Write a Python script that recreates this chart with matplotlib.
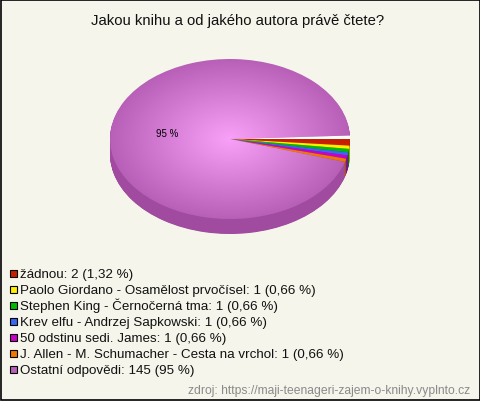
import numpy as np
import matplotlib
matplotlib.use("Agg")
import matplotlib.pyplot as plt
from matplotlib.patches import Rectangle

plt.rcParams['font.family'] = ['Liberation Sans', 'DejaVu Sans']

TITLE = "Jakou knihu a od jakého autora právě čtete?"
SOURCE = "zdroj: https://maji-teenageri-zajem-o-knihy.vyplnto.cz"
labels = ["žádnou: 2 (1,32 %)",
          "Paolo Giordano - Osamělost prvočísel: 1 (0,66 %)",
          "Stephen King - Černočerná tma: 1 (0,66 %)",
          "Krev elfu - Andrzej Sapkowski: 1 (0,66 %)",
          "50 odstinu sedi. James: 1 (0,66 %)",
          "J. Allen - M. Schumacher - Cesta na vrchol: 1 (0,66 %)",
          "Ostatní odpovědi: 145 (95 %)"]
percent = [1.32, 0.66, 0.66, 0.66, 0.66, 0.66, 94.7]
colors = ["#C81E00", "#FFEE00", "#00BB00", "#3A66F0", "#C800C8", "#F07800", "#B860B8"]
side_colors = ["#8C1500", "#B3A700", "#008300", "#2947A8", "#8C008C", "#A85400", "#A04AA0"]
BG = "#F5F5EB"

W, H = 480, 402
fig = plt.figure(figsize=(W/100, H/100), dpi=100, facecolor=BG)

# page layer in pixel coordinates
page = fig.add_axes([0, 0, 1, 1])
page.set_xlim(0, W); page.set_ylim(H, 0); page.axis("off")
page.add_patch(Rectangle((0.5, 0.5), W-1, H-1.5, fill=False, ec="black", lw=1.2))
page.text(238, 25, TITLE, ha="center", va="baseline", fontsize=10.75, color="#111111")

# pie axes: one data unit is the radius of the top ellipse
cx, cy, rx, ry, depth = 230, 140, 120, 80, 15
ax = fig.add_axes([(cx-rx)/W, 1-(cy+ry+depth)/H, 2*rx/W, (2*ry+depth)/H])
gap = 100 - sum(percent)
vals = percent + [gap]
d = depth/ry
for off in np.linspace(d, 0.01, depth*2):
    ax.pie(vals, colors=side_colors + ["#FFFFFF"], startangle=0, counterclock=False,
           center=(0, -off), radius=1)
wedges, _ = ax.pie(vals, colors=colors + ["#FFFFFF"], startangle=0, counterclock=False,
                   center=(0, 0), radius=1)
ax.set_aspect("auto")
ax.set_xlim(-1, 1); ax.set_ylim(-1-d, 1)
ax.axis("off")

# radial highlight on the large slice
n = 300
xx, yy = np.meshgrid(np.linspace(-1, 1, n), np.linspace(1, -1, n))
dist = np.hypot(xx, yy)
alpha = np.clip(1 - dist, 0, 1)
rgba = np.zeros((n, n, 4))
rgba[..., 0] = 0.98; rgba[..., 1] = 0.63; rgba[..., 2] = 0.98
rgba[..., 3] = alpha
im = ax.imshow(rgba, extent=(-1, 1, -1, 1), aspect="auto", zorder=5, interpolation="bilinear")
im.set_clip_path(wedges[6])
ax.set_xlim(-1, 1); ax.set_ylim(-1-d, 1)
ax.text((167-cx)/rx, (cy-134)/ry, "95 %", ha="center", va="center", fontsize=7, color="black", zorder=6)

# legend
y0, dy = 274, 16
for i, (lab, col) in enumerate(zip(labels, colors)):
    y = y0 + i*dy
    page.add_patch(Rectangle((9.5, y-3.5), 7, 7, fc=col, ec="black", lw=0.8))
    page.text(20, y+4, lab, ha="left", va="baseline", fontsize=9.65, color="#111111")

page.text(470, 394, SOURCE, ha="right", va="baseline", fontsize=8.75, color="#8A8A8A")
fig.savefig("out.png", dpi=100, facecolor=BG)
